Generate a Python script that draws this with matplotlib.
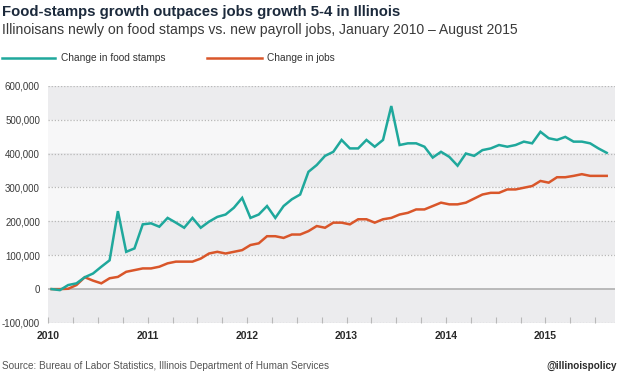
import numpy as np
import matplotlib
matplotlib.use("Agg")
import matplotlib.pyplot as plt
from matplotlib.ticker import FuncFormatter

# monthly change since Jan 2010, Jan 2010 .. Aug 2015 (68 months)
food_stamps = [0, -3000, 12000, 17000, 35000, 46000, 66000, 85000, 230000, 110000,
               120000, 191000, 194000, 184000, 210000, 196000, 181000, 210000, 181000, 199000,
               213000, 220000, 240000, 269000, 210000, 220000, 245000, 210000, 245000, 265000,
               279000, 346000, 366000, 393000, 405000, 440000, 415000, 415000, 440000, 420000,
               440000, 540000, 425000, 430000, 430000, 420000, 388000, 405000, 390000, 364000,
               400000, 393000, 410000, 415000, 425000, 420000, 425000, 435000, 430000, 464000,
               445000, 440000, 449000, 435000, 435000, 430000, 415000, 402000]
jobs = [0, 0, 1000, 12000, 35000, 25000, 17000, 32000, 36000, 51000,
        56000, 61000, 61000, 66000, 76000, 81000, 81000, 81000, 90000, 105000,
        110000, 105000, 110000, 115000, 130000, 135000, 156000, 156000, 151000, 161000,
        161000, 171000, 186000, 181000, 196000, 196000, 191000, 206000, 206000, 196000,
        206000, 210000, 220000, 225000, 235000, 235000, 245000, 255000, 250000, 250000,
        255000, 267000, 279000, 284000, 284000, 294000, 294000, 299000, 304000, 319000,
        314000, 330000, 330000, 334000, 339000, 334000, 334000, 334000]
years = ["2010", "2011", "2012", "2013", "2014", "2015"]
y_ticks = [-100000, 0, 100000, 200000, 300000, 400000, 500000, 600000]

TEAL = "#1fa89c"
ORANGE = "#d9562a"
W, H = 620, 373

fig = plt.figure(figsize=(W / 100, H / 100), dpi=100)
fig.patch.set_facecolor("white")
plt.rcParams["font.family"] = ["Liberation Sans", "DejaVu Sans"]

ax = fig.add_axes([48.3 / W, (H - 323) / H, (615 - 48.3) / W, (323 - 85.7) / H])
ax.set_xlim(-0.4, 68.0)
ax.set_ylim(-100000, 600000)
ax.set_facecolor("white")

# alternating background bands
for i, lo in enumerate(range(-100000, 600000, 100000)):
    col = "#ececee" if i % 2 == 0 else "#f7f7f8"
    ax.axhspan(lo, lo + 100000, color=col, lw=0, zorder=0)
for v in y_ticks:
    if v == 0:
        ax.axhline(v, color="#b0b0b0", lw=1.2, zorder=1)
    else:
        ax.axhline(v, color="#b8b8b8", lw=0.9, ls=(0, (1, 1.5)), zorder=1)

months = np.arange(len(food_stamps))
ax.plot(months, jobs, color=ORANGE, lw=1.8, zorder=3, solid_joinstyle="miter")
ax.plot(months, food_stamps, color=TEAL, lw=1.8, zorder=4, solid_joinstyle="miter")

for s in ax.spines.values():
    s.set_visible(False)

ax.set_yticks(y_ticks)
ax.yaxis.set_major_formatter(FuncFormatter(lambda v, p: f"{int(v):,}"))
ax.tick_params(axis="y", length=0, pad=6, labelsize=7, labelcolor="#3a3a3a")

ax.set_xticks(np.arange(0, 72, 12) - 0.4)
ax.set_xticklabels(years, fontweight="bold", color="#2a2a2a")
ax.set_xticks(np.arange(0, 69, 3) - 0.4, minor=True)
ax.tick_params(axis="x", which="both", direction="in", length=4, width=0.8,
               color="#b8b8b8", labelsize=7.5)
ax.tick_params(axis="x", which="major", pad=6)

# titles
fig.text(2 / W, 1 - 12 / H, "Food-stamps growth outpaces jobs growth 5-4 in Illinois",
         fontsize=10.7, fontweight="bold", color="#1c2a3c", va="center", ha="left")
fig.text(2 / W, 1 - 30 / H, "Illinoisans newly on food stamps vs. new payroll jobs, January 2010 \u2013 August 2015",
         fontsize=10.1, color="#3a3a3a", va="center", ha="left")

# legend
ly = 1 - 58 / H
fig.add_artist(plt.Line2D([2 / W, 55 / W], [ly, ly], color=TEAL, lw=1.8))
fig.text(61 / W, ly, "Change in food stamps", fontsize=7.3, color="#333333", va="center")
fig.add_artist(plt.Line2D([207 / W, 262 / W], [ly, ly], color=ORANGE, lw=1.8))
fig.text(267 / W, ly, "Change in jobs", fontsize=7.3, color="#333333", va="center")

# footer
fig.text(2 / W, 1 - 366 / H, "Source: Bureau of Labor Statistics, Illinois Department of Human Services",
         fontsize=7.2, color="#555555", va="center", ha="left")
fig.text(617 / W, 1 - 366 / H, "@illinoispolicy", fontsize=7.1, fontweight="bold",
         color="#2a2a2a", va="center", ha="right")

fig.savefig("out.png", dpi=100)
